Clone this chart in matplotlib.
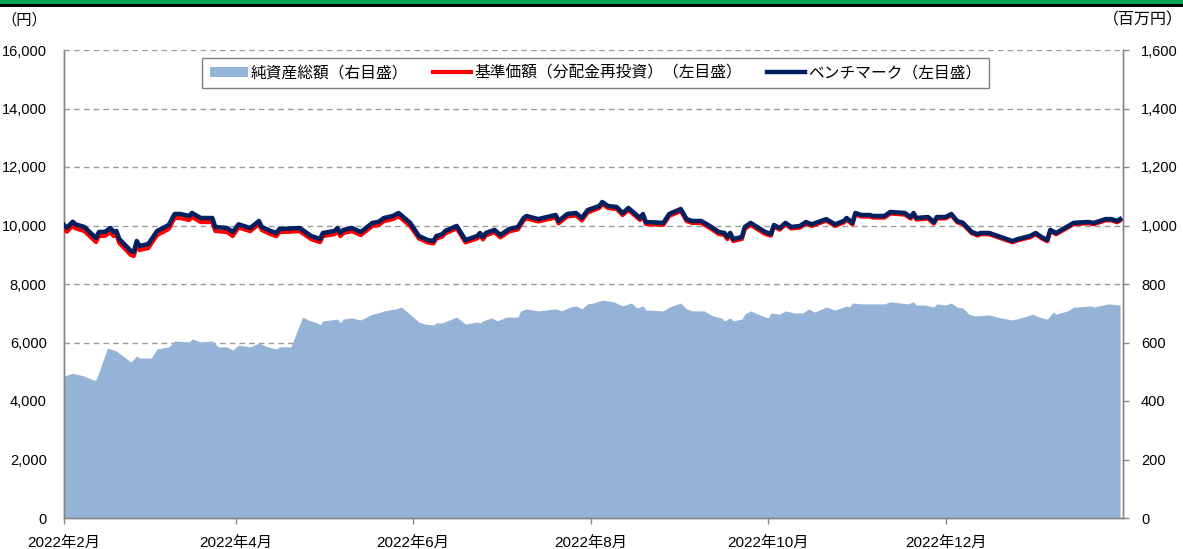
import matplotlib
matplotlib.use("Agg")
import matplotlib.pyplot as plt
import matplotlib.patches as mpatches
from matplotlib.lines import Line2D
import pandas as pd

plt.rcParams['font.family'] = ['Liberation Sans', 'Noto Sans CJK JP']

# ---------------- data ----------------
line_dates = [
    "2022-02-01", "2022-02-02", "2022-02-04", "2022-02-05", "2022-02-08", "2022-02-12", "2022-02-13",
    "2022-02-15", "2022-02-17", "2022-02-18", "2022-02-19", "2022-02-20", "2022-02-24", "2022-02-25",
    "2022-02-26", "2022-02-27", "2022-03-02", "2022-03-05", "2022-03-09", "2022-03-11", "2022-03-13",
    "2022-03-16", "2022-03-17", "2022-03-20", "2022-03-24", "2022-03-25", "2022-03-29", "2022-03-31",
    "2022-04-02", "2022-04-06", "2022-04-09", "2022-04-10", "2022-04-13", "2022-04-15", "2022-04-16",
    "2022-04-23", "2022-04-27", "2022-04-30", "2022-05-01", "2022-05-05", "2022-05-06", "2022-05-07",
    "2022-05-08", "2022-05-11", "2022-05-14", "2022-05-18", "2022-05-20", "2022-05-22", "2022-05-25",
    "2022-05-27", "2022-05-31", "2022-06-03", "2022-06-06", "2022-06-08", "2022-06-09", "2022-06-11",
    "2022-06-12", "2022-06-16", "2022-06-19", "2022-06-23", "2022-06-24", "2022-06-25", "2022-06-26",
    "2022-06-29", "2022-07-01", "2022-07-04", "2022-07-07", "2022-07-09", "2022-07-10", "2022-07-14",
    "2022-07-17", "2022-07-20", "2022-07-21", "2022-07-24", "2022-07-27", "2022-07-29", "2022-07-31",
    "2022-08-04", "2022-08-05", "2022-08-07", "2022-08-10", "2022-08-12", "2022-08-14", "2022-08-18",
    "2022-08-19", "2022-08-20", "2022-08-26", "2022-08-28", "2022-09-01", "2022-09-03", "2022-09-05",
    "2022-09-08", "2022-09-11", "2022-09-14", "2022-09-16", "2022-09-17", "2022-09-18", "2022-09-19",
    "2022-09-22", "2022-09-23", "2022-09-25", "2022-09-30", "2022-10-02", "2022-10-03", "2022-10-05",
    "2022-10-07", "2022-10-09", "2022-10-12", "2022-10-14", "2022-10-16", "2022-10-21", "2022-10-24",
    "2022-10-27", "2022-10-28", "2022-10-30", "2022-10-31", "2022-11-02", "2022-11-05", "2022-11-06",
    "2022-11-10", "2022-11-12", "2022-11-17", "2022-11-19", "2022-11-20", "2022-11-21", "2022-11-25",
    "2022-11-27", "2022-11-28", "2022-12-01", "2022-12-03", "2022-12-05", "2022-12-07", "2022-12-10",
    "2022-12-11", "2022-12-12", "2022-12-13", "2022-12-16", "2022-12-20", "2022-12-24", "2022-12-26",
    "2022-12-30", "2023-01-01", "2023-01-03", "2023-01-05", "2023-01-06", "2023-01-08", "2023-01-11",
    "2023-01-14", "2023-01-19", "2023-01-21", "2023-01-25", "2023-01-27", "2023-01-29", "2023-01-30",
]

benchmark = [
    10018, 9925, 10130, 10040, 9950, 9574, 9780,
    9780, 9915, 9780, 9813, 9540, 9130, 9095,
    9471, 9300, 9369, 9813, 10018, 10394, 10394,
    10326, 10428, 10257, 10257, 9950, 9915, 9780,
    10040, 9915, 10155, 9950, 9813, 9745, 9880,
    9915, 9640, 9540, 9745, 9813, 9915, 9745,
    9850, 9915, 9780, 10090, 10120, 10257, 10326,
    10428, 10090, 9640, 9505, 9471, 9640, 9700,
    9813, 9985, 9505, 9640, 9745, 9607, 9745,
    9850, 9676, 9880, 9950, 10257, 10326, 10220,
    10290, 10360, 10155, 10394, 10428, 10257, 10530,
    10667, 10804, 10667, 10633, 10428, 10599, 10257,
    10394, 10120, 10090, 10394, 10565, 10220, 10155,
    10155, 9985, 9780, 9745, 9607, 9745, 9540,
    9607, 9950, 10090, 9780, 9710, 10018, 9915,
    10090, 9950, 9985, 10120, 10040, 10220, 10040,
    10155, 10257, 10090, 10428, 10360, 10360, 10326,
    10326, 10462, 10428, 10290, 10428, 10257, 10290,
    10120, 10290, 10290, 10394, 10155, 10090, 9780,
    9745, 9700, 9745, 9745, 9607, 9471, 9540,
    9640, 9745, 9607, 9505, 9850, 9745, 9915,
    10090, 10120, 10090, 10220, 10220, 10155, 10220,
]

nav = [
    9878, 9785, 9990, 9900, 9810, 9434, 9640,
    9640, 9775, 9640, 9673, 9400, 8990, 8955,
    9331, 9160, 9229, 9673, 9878, 10254, 10254,
    10186, 10288, 10117, 10117, 9810, 9775, 9640,
    9930, 9805, 10045, 9840, 9703, 9635, 9770,
    9805, 9530, 9430, 9635, 9703, 9805, 9635,
    9740, 9805, 9670, 9980, 10010, 10147, 10216,
    10318, 9980, 9555, 9420, 9386, 9555, 9615,
    9728, 9900, 9420, 9555, 9660, 9522, 9660,
    9765, 9591, 9795, 9865, 10172, 10241, 10135,
    10205, 10275, 10070, 10309, 10343, 10172, 10445,
    10597, 10734, 10597, 10563, 10358, 10529, 10187,
    10324, 10050, 10020, 10324, 10495, 10150, 10085,
    10085, 9915, 9710, 9675, 9537, 9675, 9470,
    9537, 9880, 10020, 9710, 9655, 9963, 9860,
    10035, 9895, 9930, 10065, 9985, 10165, 9985,
    10100, 10202, 10035, 10373, 10305, 10305, 10271,
    10271, 10407, 10373, 10235, 10373, 10202, 10235,
    10065, 10235, 10245, 10349, 10110, 10045, 9735,
    9700, 9655, 9700, 9700, 9562, 9426, 9495,
    9595, 9700, 9562, 9460, 9805, 9700, 9870,
    10045, 10075, 10045, 10175, 10175, 10110, 10175,
]

asset_dates = [
    "2022-02-01", "2022-02-04", "2022-02-08", "2022-02-11", "2022-02-12", "2022-02-16", "2022-02-19",
    "2022-02-24", "2022-02-26", "2022-02-27", "2022-03-03", "2022-03-05", "2022-03-09", "2022-03-11",
    "2022-03-16", "2022-03-17", "2022-03-20", "2022-03-24", "2022-03-26", "2022-03-29", "2022-03-31",
    "2022-04-02", "2022-04-06", "2022-04-09", "2022-04-12", "2022-04-15", "2022-04-16", "2022-04-20",
    "2022-04-24", "2022-04-26", "2022-04-29", "2022-04-30", "2022-05-01", "2022-05-06", "2022-05-07",
    "2022-05-08", "2022-05-11", "2022-05-14", "2022-05-18", "2022-05-20", "2022-05-22", "2022-05-26",
    "2022-05-28", "2022-06-03", "2022-06-05", "2022-06-08", "2022-06-09", "2022-06-11", "2022-06-16",
    "2022-06-19", "2022-06-23", "2022-06-24", "2022-06-25", "2022-06-28", "2022-06-30", "2022-07-03",
    "2022-07-07", "2022-07-08", "2022-07-10", "2022-07-14", "2022-07-20", "2022-07-22", "2022-07-25",
    "2022-07-27", "2022-07-29", "2022-07-31", "2022-08-02", "2022-08-05", "2022-08-09", "2022-08-12",
    "2022-08-15", "2022-08-17", "2022-08-19", "2022-08-20", "2022-08-26", "2022-08-28", "2022-09-01",
    "2022-09-03", "2022-09-05", "2022-09-09", "2022-09-12", "2022-09-15", "2022-09-16", "2022-09-18",
    "2022-09-19", "2022-09-22", "2022-09-23", "2022-09-25", "2022-09-29", "2022-10-01", "2022-10-02",
    "2022-10-05", "2022-10-07", "2022-10-10", "2022-10-13", "2022-10-15", "2022-10-17", "2022-10-21",
    "2022-10-24", "2022-10-28", "2022-10-29", "2022-10-30", "2022-11-02", "2022-11-10", "2022-11-12",
    "2022-11-18", "2022-11-20", "2022-11-21", "2022-11-24", "2022-11-27", "2022-11-28", "2022-12-01",
    "2022-12-03", "2022-12-05", "2022-12-07", "2022-12-09", "2022-12-11", "2022-12-12", "2022-12-16",
    "2022-12-20", "2022-12-24", "2022-12-28", "2022-12-31", "2023-01-02", "2023-01-05", "2023-01-07",
    "2023-01-08", "2023-01-12", "2023-01-14", "2023-01-20", "2023-01-21", "2023-01-26", "2023-01-30",
]

net_assets = [
    485, 495, 485, 472, 472, 581, 571,
    533, 554, 547, 547, 578, 585, 605,
    602, 612, 602, 605, 585, 585, 574,
    591, 585, 598, 585, 578, 585, 585,
    687, 677, 667, 660, 674, 680, 667,
    680, 684, 677, 697, 701, 708, 715,
    721, 670, 663, 660, 667, 667, 687,
    663, 670, 667, 674, 684, 674, 687,
    687, 708, 715, 708, 715, 708, 721,
    725, 715, 732, 735, 745, 739, 725,
    735, 718, 725, 711, 708, 721, 735,
    715, 708, 708, 691, 684, 674, 684,
    674, 680, 697, 708, 691, 684, 701,
    697, 708, 701, 701, 715, 704, 721,
    711, 725, 721, 735, 732, 732, 739,
    732, 739, 728, 728, 721, 732, 728,
    735, 721, 718, 697, 691, 691, 694,
    684, 677, 687, 697, 687, 680, 704,
    697, 708, 721, 725, 721, 732, 728,
]

left_ticks = [0, 2000, 4000, 6000, 8000, 10000, 12000, 14000, 16000]
right_ticks = [0, 200, 400, 600, 800, 1000, 1200, 1400, 1600]
x_tick_dates = ["2022-02-01", "2022-04-01", "2022-06-01", "2022-08-01", "2022-10-01", "2022-12-01"]
x_tick_labels = ["2022年2月", "2022年4月", "2022年6月", "2022年8月", "2022年10月", "2022年12月"]

legend_labels = ["純資産総額（右目盛）", "基準価額（分配金再投資）（左目盛）", "ベンチマーク（左目盛）"]

# ---------------- styling ----------------
W, H = 1183, 549
fig = plt.figure(figsize=(W / 100, H / 100), dpi=100)
fig.patch.set_facecolor("white")

# top banner
fig.add_artist(mpatches.Rectangle((0, 1 - 4.5 / H), 1, 4.5 / H, transform=fig.transFigure,
                                  facecolor="#00A651", edgecolor="none"))
fig.add_artist(mpatches.Rectangle((0, 1 - 7.3 / H), 1, 2.8 / H, transform=fig.transFigure,
                                  facecolor="black", edgecolor="none"))

L, R, B, T = 64, 1123, 518, 50
ax = fig.add_axes([L / W, 1 - B / H, (R - L) / W, (B - T) / H])
ax2 = ax.twinx()

area_color = "#95B3D7"
red = "#FF0000"
navy = "#002060"
grey = "#868686"

ad = pd.to_datetime(asset_dates)
ax.fill_between(ad, net_assets, 0, color=area_color, linewidth=0, zorder=2)
ax.set_ylim(0, 1600)
ax.set_yticks(right_ticks)
ax.set_yticklabels([f"{v:,}" for v in right_ticks])
ax.yaxis.tick_right()
ax.set_axisbelow(True)
ax.grid(axis="y", color="#9A9A9A", linestyle=(0, (4, 3)), linewidth=1.0, zorder=0)

ld = pd.to_datetime(line_dates)
ax2.plot(ld, nav, color=red, linewidth=3.0, solid_joinstyle="round", zorder=3)
ax2.plot(ld, benchmark, color=navy, linewidth=3.2, solid_joinstyle="round", zorder=4)
ax2.set_ylim(0, 16000)
ax2.set_yticks(left_ticks)
ax2.set_yticklabels([f"{v:,}" for v in left_ticks])
ax2.yaxis.tick_left()

ax.set_xlim(pd.Timestamp("2022-02-01"), pd.Timestamp("2023-01-31"))
ax.set_xticks(pd.to_datetime(x_tick_dates))
ax.set_xticklabels(x_tick_labels)

for a in (ax, ax2):
    a.spines["top"].set_visible(False)
    for s in ("left", "right", "bottom"):
        a.spines[s].set_color(grey)
        a.spines[s].set_linewidth(1.0)
    a.patch.set_visible(False)

ax.tick_params(axis="x", length=4, width=1, color=grey, pad=9, labelsize=11, direction="out")
ax.tick_params(axis="y", right=True, left=False, length=4, width=1, color=grey, pad=9,
               labelsize=10.5, labelright=True, labelleft=False)
ax2.tick_params(axis="y", left=True, right=False, length=0, pad=12.5, labelsize=10.5,
                labelleft=True, labelright=False)

# legend
handles = [
    mpatches.Patch(facecolor=area_color, edgecolor="none"),
    Line2D([0], [0], color=red, linewidth=3.0),
    Line2D([0], [0], color=navy, linewidth=3.2),
]
leg = ax2.legend(handles, legend_labels, loc="center", bbox_to_anchor=(0.502, 0.951), ncol=3,
                 fontsize=11.3, frameon=True, fancybox=False, edgecolor="#7F7F7F",
                 handlelength=2.4, handleheight=0.55, handletextpad=0.2, columnspacing=1.6,
                 borderpad=0.5, framealpha=1)
leg.get_frame().set_linewidth(1.0)

fig.text(1 / W, 1 - 20 / H, "（円）", ha="left", va="center", fontsize=11)
fig.text(1.0, 1 - 20 / H, "（百万円）", ha="right", va="center", fontsize=11.5)

fig.savefig("out.png", dpi=100, facecolor="white")
